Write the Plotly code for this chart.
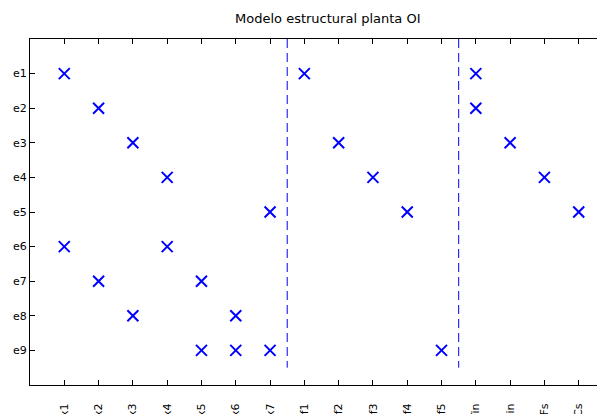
import plotly.graph_objects as go

# Categories
x_labels = ["x1", "x2", "x3", "x4", "x5", "x6", "x7",
            "f1", "f2", "f3", "f4", "f5",
            "Tin", "Min", "Fs", "Cs"]
y_labels = ["e1", "e2", "e3", "e4", "e5", "e6", "e7", "e8", "e9"]

# Structural incidence: (column index 1..16, row index 1..9)
mark_cols = [1, 8, 13,
             2, 13,
             3, 9, 14,
             4, 10, 15,
             7, 11, 16,
             1, 4,
             2, 5,
             3, 6,
             5, 6, 7, 12]
mark_rows = [1, 1, 1,
             2, 2,
             3, 3, 3,
             4, 4, 4,
             5, 5, 5,
             6, 6,
             7, 7,
             8, 8,
             9, 9, 9, 9]

# Separators between variable groups
sep_x = [7.5, 12.5]
sep_y = [0, 9.5]

fig = go.Figure()

fig.add_trace(go.Scatter(
    x=mark_cols, y=mark_rows, mode="markers",
    marker=dict(symbol="x-thin-open", size=11, color="#0000ff",
                line=dict(color="#0000ff", width=2)),
    hoverinfo="skip", showlegend=False))

for sx in sep_x:
    fig.add_trace(go.Scatter(
        x=[sx, sx], y=sep_y, mode="lines",
        line=dict(color="#0000ff", width=1, dash="9px,5px"),
        hoverinfo="skip", showlegend=False))

fig.update_layout(
    width=605, height=414,
    margin=dict(l=22, r=0, t=31, b=37),
    paper_bgcolor="white", plot_bgcolor="white",
    font=dict(family="DejaVu Sans, sans-serif", size=11, color="black"),
    title=dict(text="Modelo estructural planta OI", x=309/605, xanchor="center",
               xref="paper", y=1 - 10/414, yref="container", yanchor="middle",
               font=dict(size=13, color="black")),
    showlegend=False,
)

fig.update_xaxes(
    range=[0, 17], tickmode="array",
    tickvals=list(range(1, len(x_labels) + 1)), ticktext=x_labels,
    tickangle=-90, ticks="inside", ticklen=5, tickcolor="black",
    showline=True, linecolor="black", linewidth=1, mirror="ticks",
    showgrid=False, zeroline=False, automargin=False,
    ticklabelstandoff=13,
)
fig.update_yaxes(
    range=[10, 0], tickmode="array",
    tickvals=list(range(1, len(y_labels) + 1)), ticktext=y_labels,
    ticks="inside", ticklen=5, tickcolor="black",
    showline=True, linecolor="black", linewidth=1, mirror="ticks",
    showgrid=False, zeroline=False, automargin=False,
)

fig.write_html("out.html")
